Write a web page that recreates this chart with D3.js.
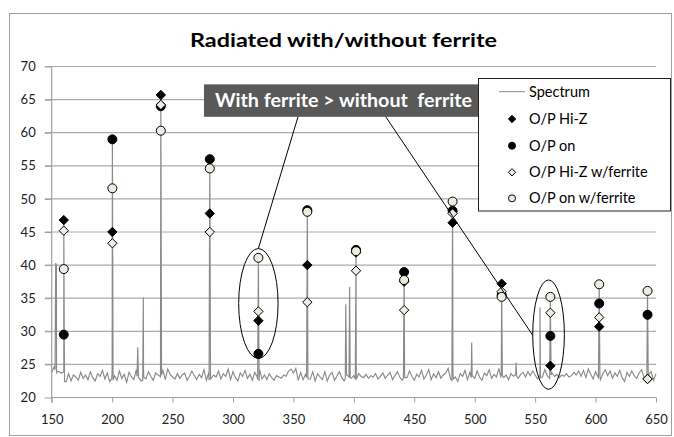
<!DOCTYPE html>
<html><head><meta charset="utf-8">
<script src="https://cdn.jsdelivr.net/npm/d3@7"></script>
<style>html,body{margin:0;padding:0;background:#fff;}svg{display:block;}</style>
</head><body>
<script>
// ---------- DATA ----------
const title = "Radiated with/without ferrite";
const annotationText = "With ferrite > without  ferrite";
const xTicks = [150, 200, 250, 300, 350, 400, 450, 500, 550, 600, 650];
const yTicks = [20, 25, 30, 35, 40, 45, 50, 55, 60, 65, 70];

// harmonic frequencies (MHz) of the measured markers
const freqs  = [160, 200.2, 240.3, 280.8, 321, 361.5, 401.8, 441.6, 481.7, 522.3, 562.6, 603, 643];
const hiZ    = [46.8, 45.0, 65.7, 47.8, 31.6, 40.0, 41.9, 37.5, 46.4, 37.2, 24.8, 30.7, 22.8];
const opOn   = [29.5, 59.0, 64.0, 56.0, 26.6, 48.3, 42.3, 38.95, 48.2, 35.5, 29.3, 34.2, 32.5];
const hiZF   = [45.2, 43.3, 64.2, 45.0, 33.0, 34.4, 39.15, 33.2, 47.8, 36.0, 32.8, 32.1, 22.8];
const opOnF  = [39.4, 51.6, 60.3, 54.6, 41.1, 48.05, 42.1, 37.75, 49.6, 35.2, 35.2, 37.1, 36.1];

// spectrum noise floor, sampled every 2 MHz from 150 to 650
const specStart = 150, specStep = 2;
const specFloor = [
 23.8,24.6,23.6,23.9,23.7,24.0,22.4,23.6,22.5,23.4,
 23.1,22.6,23.8,22.9,23.4,22.7,23.9,23.0,22.5,23.6,
 23.2,24.1,22.8,23.7,22.4,23.9,23.3,22.6,24.0,22.9,
 23.5,22.3,23.8,23.1,22.7,24.2,23.0,22.5,23.6,22.8,
 23.9,23.2,22.6,23.7,23.4,23.0,24.1,22.7,24.3,23.5,
 23.1,22.8,23.6,22.9,23.4,23.7,22.6,23.2,24.0,23.3,
 22.7,23.5,23.0,24.2,22.6,23.8,22.9,23.4,23.1,24.0,
 22.8,23.6,23.2,24.3,22.7,23.9,23.0,22.5,23.7,23.2,
 24.1,22.9,23.5,22.6,23.8,23.1,24.2,22.8,23.4,22.7,
 23.6,23.0,22.6,23.3,23.1,22.9,23.4,23.2,24.0,24.3,
 23.7,24.4,22.6,23.8,22.7,23.5,23.0,22.8,23.9,22.5,
 23.6,23.1,22.7,23.9,22.5,23.4,23.8,22.6,23.2,23.9,
 23.0,22.5,23.4,23.1,22.9,23.3,22.8,23.6,23.2,23.0,
 23.5,22.9,23.3,23.1,23.6,22.8,23.2,23.7,22.9,23.4,
 23.8,22.7,23.3,23.9,23.1,22.6,23.7,23.0,24.0,23.2,
 22.6,23.5,23.1,24.1,22.8,23.4,24.2,22.7,23.6,23.0,
 23.9,22.9,23.4,23.7,24.4,22.8,23.5,23.1,22.4,23.6,
 23.2,24.1,22.7,23.8,23.3,22.9,24.0,23.1,22.6,23.7,
 23.3,24.2,22.9,23.5,23.1,24.4,23.7,23.0,23.4,22.7,
 23.6,23.2,24.0,22.9,23.5,23.8,23.1,23.9,23.3,24.0,
 23.4,22.8,23.6,23.1,24.2,23.3,22.9,23.7,23.2,23.5,
 23.0,23.4,23.2,23.6,23.1,23.3,23.8,23.4,24.0,23.2,
 24.1,23.0,24.3,23.5,22.8,23.9,23.1,22.7,23.6,24.2,
 23.3,24.0,22.9,23.7,23.2,24.1,23.0,22.4,23.8,23.2,
 24.0,23.3,22.9,23.7,24.2,23.1,22.8,23.5,23.9,22.6,
 23.6
];
// spectrum peaks: [MHz, dBuV]
const specPeaks = [
 [152.8,24.2],[153.3,40.3],[153.9,40.0],[154.4,24.0],
 [159.4,23.8],[160,46.8],[160.6,22.4],
 [199.6,22.8],[200.2,59.0],[200.8,22.6],
 [220.6,23.2],[221.2,27.6],[221.8,23.0],
 [225.3,22.6],[225.8,35.1],[226.4,23.0],
 [239.7,23.2],[240.3,65.7],[240.9,23.4],
 [280.2,22.6],[280.8,56.0],[281.4,22.8],
 [320.4,22.7],[321,41.1],[321.6,22.5],
 [360.9,23.0],[361.5,48.3],[362.1,22.8],
 [392.9,22.8],[393.3,34.1],[393.8,26.3],
 [396.1,26.5],[396.5,36.7],[397.0,23.0],
 [401.2,22.8],[401.8,42.3],[402.4,22.9],
 [441.0,22.9],[441.6,38.9],[442.2,23.0],
 [481.1,22.6],[481.7,49.6],[482.3,22.8],
 [497.1,23.0],[497.5,28.3],[497.9,23.2],
 [521.7,23.0],[522.3,37.2],[522.9,23.3],
 [533.7,23.4],[534.2,25.3],[534.7,23.2],
 [553.6,23.2],[554,33.6],[554.4,23.0],
 [562.0,23.1],[562.6,35.2],[563.2,23.4],
 [602.4,23.0],[603,37.1],[603.6,23.2],
 [642.4,22.9],[643,36.1],[643.6,22.6]
];

// annotation geometry in data units
const ellipse1 = {f: 321, v: 34.2, rf: 16.3, rv: 8.3};
const ellipse2 = {f: 561.1, v: 29.5, rf: 13.1, rv: 8.26};
const annBox = {f0: 276, f1: 509.7, v0: 67.3, v1: 62.4};
const callouts = [[353.8, 62.4, 321, 42.5], [426.4, 62.4, 548, 29.4]];

const legendItems = ["Spectrum", "O/P Hi-Z", "O/P on", "O/P Hi-Z w/ferrite", "O/P on w/ferrite"];

// ---------- DRAW ----------
const W = 674, H = 437;
const svg = d3.select("body").append("svg").attr("width", W).attr("height", H);
const FONT = "Lato, 'Liberation Sans', sans-serif";
const light = "#eeece1";

svg.append("rect").attr("x", 9.5).attr("y", 13.5).attr("width", 662).attr("height", 422)
  .attr("fill", "#fff").attr("stroke", "#a0a0a0").attr("stroke-width", 1);

const x = d3.scaleLinear().domain([150, 650]).range([51.7, 656]);
const y = d3.scaleLinear().domain([20, 70]).range([397.5, 66.5]);

// gridlines
svg.append("g").selectAll("line").data(yTicks.filter(d => d > 20)).join("line")
  .attr("x1", 45).attr("x2", 656).attr("y1", d => y(d)).attr("y2", d => y(d))
  .attr("stroke", "#ababab").attr("stroke-width", 1.2);

// axes
const xAxis = d3.axisBottom(x).tickValues(xTicks).tickSize(5).tickPadding(12);
const gx = svg.append("g").attr("transform", `translate(0,${y(20)})`).call(xAxis);
gx.select(".domain").attr("stroke", "#a0a0a0").attr("stroke-width", 1.2).attr("d", `M${x(150)},0H${x(650)}`);
gx.selectAll(".tick line").attr("stroke", "#a0a0a0");
gx.selectAll("text").attr("font-family", FONT).attr("font-size", 13).attr("fill", "#222");

const yAxis = d3.axisLeft(y).tickValues(yTicks).tickSize(7).tickPadding(9);
const gy = svg.append("g").attr("transform", `translate(${x(150)},0)`).call(yAxis);
gy.select(".domain").attr("stroke", "#a0a0a0").attr("stroke-width", 1.2).attr("d", `M0,${y(70)}V${y(20)+5}`);
gy.selectAll(".tick line").attr("stroke", "#a0a0a0");
gy.selectAll("text").attr("font-family", FONT).attr("font-size", 13).attr("fill", "#222");

// spectrum
const spec = specFloor.map((v, i) => [specStart + i * specStep, v])
  .concat(specPeaks).sort((a, b) => a[0] - b[0]);
svg.append("path").datum(spec)
  .attr("d", d3.line().x(d => x(d[0])).y(d => y(d[1])))
  .attr("fill", "none").attr("stroke", "#8a8a8a").attr("stroke-width", 1.15);

// markers
const diamond = d3.symbol().type(d3.symbolDiamond2).size(56);
const series = [
  {vals: hiZ,   shape: "diamond", fill: "#000"},
  {vals: opOn,  shape: "circle",  fill: "#000"},
  {vals: hiZF,  shape: "diamond", fill: light},
  {vals: opOnF, shape: "circle",  fill: light}
];
series.forEach(s => {
  const g = svg.append("g");
  const pts = freqs.map((f, i) => [f, s.vals[i]]);
  if (s.shape === "diamond") {
    g.selectAll("path").data(pts).join("path")
      .attr("d", diamond)
      .attr("transform", d => `translate(${x(d[0])},${y(d[1])})`)
      .attr("fill", s.fill).attr("stroke", "#000").attr("stroke-width", 1);
  } else {
    g.selectAll("circle").data(pts).join("circle")
      .attr("cx", d => x(d[0])).attr("cy", d => y(d[1])).attr("r", 4.5)
      .attr("fill", s.fill).attr("stroke", "#000").attr("stroke-width", 1);
  }
});

// ellipses
[ellipse1, ellipse2].forEach(e => {
  svg.append("ellipse")
    .attr("cx", x(e.f)).attr("cy", y(e.v))
    .attr("rx", x(e.f + e.rf) - x(e.f)).attr("ry", y(e.v) - y(e.v + e.rv))
    .attr("fill", "none").attr("stroke", "#000").attr("stroke-width", 1);
});
// callout lines
svg.append("g").selectAll("line").data(callouts).join("line")
  .attr("x1", d => x(d[0])).attr("y1", d => y(d[1]))
  .attr("x2", d => x(d[2])).attr("y2", d => y(d[3]))
  .attr("stroke", "#000").attr("stroke-width", 1);

// annotation box
svg.append("rect")
  .attr("x", x(annBox.f0)).attr("y", y(annBox.v0))
  .attr("width", x(annBox.f1) - x(annBox.f0)).attr("height", y(annBox.v1) - y(annBox.v0))
  .attr("fill", "#595959");
svg.append("text").text(annotationText)
  .attr("x", 215).attr("y", 107)
  .attr("font-family", FONT).attr("font-weight", "bold").attr("font-size", 18)
  .attr("fill", "#fff").attr("textLength", 257).attr("lengthAdjust", "spacingAndGlyphs")
  .style("white-space", "pre");

// title
svg.append("text").text(title)
  .attr("x", 190).attr("y", 47)
  .attr("font-family", FONT).attr("font-weight", "bold").attr("font-size", 19.5)
  .attr("fill", "#000").attr("textLength", 307).attr("lengthAdjust", "spacingAndGlyphs");

// legend
const lg = svg.append("g");
lg.append("rect").attr("x", 478.5).attr("y", 78.5).attr("width", 192).attr("height", 132.5)
  .attr("fill", "#fff").attr("stroke", "#222").attr("stroke-width", 1);
const ly = [91.7, 119, 145.7, 172.3, 198.3];
legendItems.forEach((name, i) => {
  const cy = ly[i];
  if (i === 0) {
    lg.append("line").attr("x1", 499).attr("x2", 525).attr("y1", cy).attr("y2", cy)
      .attr("stroke", "#8a8a8a").attr("stroke-width", 1);
  } else {
    const s = series[i - 1];
    if (s.shape === "diamond") {
      lg.append("path").attr("d", d3.symbol().type(d3.symbolDiamond2).size(34))
        .attr("transform", `translate(512,${cy})`)
        .attr("fill", s.fill).attr("stroke", "#000").attr("stroke-width", 1);
    } else {
      lg.append("circle").attr("cx", 512).attr("cy", cy).attr("r", 3.5)
        .attr("fill", s.fill).attr("stroke", "#000").attr("stroke-width", 1);
    }
  }
  lg.append("text").text(name).attr("x", 529).attr("y", cy + 5)
    .attr("font-family", FONT).attr("font-size", 14.5).attr("fill", "#000");
});
</script>
</body></html>
